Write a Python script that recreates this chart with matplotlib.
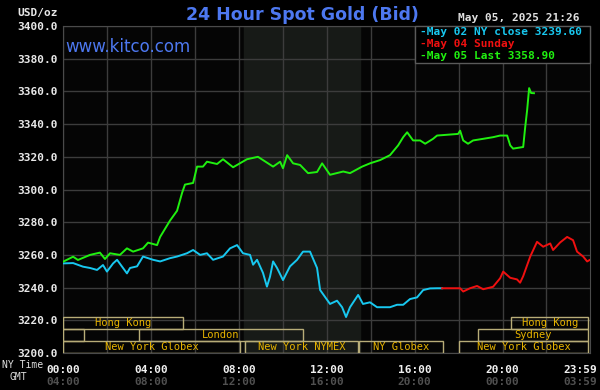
import matplotlib.pyplot as plt
from matplotlib.patches import Rectangle

# --- data (hours NY time, price USD/oz) ---
prev_t = [0, 0.46, 0.91, 1.23, 1.55, 1.82, 2.0, 2.28, 2.46, 2.91,
          3.05, 3.37, 3.64, 4.1, 4.42, 4.87, 5.19, 5.64, 5.92, 6.24,
          6.55, 6.83, 7.28, 7.6, 7.92, 8.19, 8.51, 8.65, 8.83, 9.1,
          9.28, 9.42, 9.56, 9.74, 10.01, 10.33, 10.65, 10.92, 11.24, 11.56,
          11.7, 12.15, 12.47, 12.7, 12.88, 13.06, 13.43, 13.65, 13.97, 14.29,
          14.88, 15.2, 15.48, 15.79, 16.11, 16.39, 16.7, 17.02, 17.25]
prev_p = [3254.8, 3255, 3252.8, 3252, 3250.8, 3253.8, 3249.8, 3254.8, 3257, 3248.7,
          3252, 3253, 3259, 3257, 3256, 3258, 3259, 3261, 3263, 3260,
          3261, 3257, 3259, 3264, 3266, 3261, 3260, 3254, 3257, 3249,
          3240.6, 3246.7, 3256, 3252, 3244.6, 3253, 3257, 3262, 3262, 3252,
          3238.5, 3230, 3232, 3228, 3222, 3228, 3235.5, 3230, 3231, 3228,
          3228, 3229.5, 3229.5, 3233, 3234, 3238.5, 3239.5, 3239.6, 3239.6]

sun_t = [17.25, 18.07, 18.21, 18.52, 18.84, 19.12, 19.57, 19.89, 20.03, 20.35,
         20.66, 20.8, 20.94, 21.26, 21.57, 21.85, 22.17, 22.3, 22.62, 22.94,
         23.21, 23.39, 23.67, 23.85, 23.98]
sun_p = [3239.6, 3239.6, 3237.6, 3239.6, 3241, 3239, 3240.5, 3245.7, 3249.8, 3246,
         3245, 3243, 3247, 3259, 3268, 3265, 3267, 3263, 3267.6, 3271,
         3269, 3262, 3259, 3256, 3257]

today_t = [0, 0.46, 0.68, 1.23, 1.68, 1.91, 2.14, 2.59, 2.91, 3.19,
           3.64, 3.87, 4.28, 4.42, 4.87, 5.19, 5.42, 5.55, 5.92, 6.1,
           6.37, 6.55, 7.01, 7.28, 7.74, 8.37, 8.87, 9.1, 9.56, 9.88,
           10.01, 10.2, 10.47, 10.79, 11.15, 11.56, 11.79, 12.15,
           12.75, 13.06, 13.61, 13.97, 14.43, 14.88, 15.25, 15.48, 15.66, 15.93,
           16.25, 16.48, 16.84, 17.02, 17.98, 18.07, 18.21, 18.43, 18.66, 19.12,
           19.57, 19.89, 20.21, 20.35, 20.48, 20.94, 21.03, 21.12, 21.21, 21.3,
           21.43]
today_p = [3255.8, 3258.9, 3256.9, 3260, 3261.4, 3257.5, 3261, 3260, 3264, 3262,
           3264, 3267.5, 3266, 3271, 3281, 3287, 3298, 3303, 3304, 3314,
           3314, 3317, 3315.6, 3318.5, 3313.6, 3318.5, 3320, 3318, 3314, 3317,
           3313, 3321, 3316, 3315, 3310, 3310.7, 3316, 3309,
           3311, 3310, 3314, 3316, 3318, 3321, 3327, 3332, 3335, 3330,
           3330, 3328, 3331, 3333, 3334, 3336, 3330, 3328, 3330, 3331,
           3332, 3333, 3333, 3327, 3325, 3326, 3338, 3348.6, 3362, 3359,
           3358.9]

legend_labels = ['May 02 NY close 3239.60', 'May 04 Sunday', 'May 05 Last 3358.90']

# market sessions: name, row (0 = top), start hour, end hour
sess_names = ['Hong Kong', '', 'London', 'New York Globex', 'New York NYMEX',
              'NY Globex', 'New York Globex', 'Sydney', 'Hong Kong']
sess_rows = [0, 1, 1, 2, 2, 2, 2, 1, 0]
sess_start = [0, 0, 3.47, 0, 8.28, 13.47, 18.0, 18.9, 20.4]
sess_end = [5.46, 0.96, 10.9, 8.05, 13.43, 17.3, 23.9, 23.9, 23.9]

pit_hours = (8.25, 13.52)

xtick_pos = [0, 4, 8, 12, 16, 20, 23.98]
ny_labels = ['00:00', '04:00', '08:00', '12:00', '16:00', '20:00', '23:59']
gmt_labels = ['04:00', '08:00', '12:00', '16:00', '20:00', '00:00', '03:59']

# --- colours ---
CYAN = '#18c8f0'
RED = '#f01010'
GREEN = '#20f010'
BLUE = '#4d78f0'
GOLD = '#e8b400'
BOX = '#b8ad78'
MONO = 'DejaVu Sans Mono'

fig = plt.figure(figsize=(6, 3.9), dpi=100, facecolor='black')
ax = fig.add_axes([63 / 600, 1 - 353 / 390, 527 / 600, 327 / 390])
ax.set_facecolor('#050505')
ax.set_xlim(0, 23.98)
ax.set_ylim(3200, 3400)

ax.axvspan(*pit_hours, color='#171a17', zorder=0)

ax.set_xticks([h for h in range(0, 24, 2)])
ax.set_yticks(range(3200, 3401, 20))
ax.grid(True, color='#3c3c3c', lw=1.0, zorder=1)
ax.tick_params(length=0, labelbottom=False)
ax.set_yticklabels([f'{v:.1f}' for v in range(3200, 3401, 20)])
for lab in ax.get_yticklabels():
    lab.set_color('#e8e8e8')
    lab.set_fontfamily(MONO)
    lab.set_fontweight('bold')
    lab.set_fontsize(8)
ax.tick_params(axis='y', pad=4)
for s in ax.spines.values():
    s.set_color('#4a4a4a')

# session boxes
row_h = 22 / 3
for name, r, a, b in zip(sess_names, sess_rows, sess_start, sess_end):
    y0 = 3200 + (2 - r) * row_h
    ax.add_patch(Rectangle((a, y0), b - a, row_h, fill=False, ec=BOX, lw=1.0, zorder=3))
    if name:
        ax.text((a + b) / 2, y0 + row_h / 2, name, color=GOLD, fontsize=7.5,
                family=MONO, ha='center', va='center', zorder=4)

ax.plot(prev_t, prev_p, color=CYAN, lw=1.4, zorder=5)
ax.plot(sun_t, sun_p, color=RED, lw=1.4, zorder=5)
ax.plot(today_t, today_p, color=GREEN, lw=1.4, zorder=6)

# x labels (NY time and GMT)
tr = ax.get_xaxis_transform()
for i, (x, a, b) in enumerate(zip(xtick_pos, ny_labels, gmt_labels)):
    ha = 'right' if i == len(xtick_pos) - 1 else 'center'
    dx = 5 if ha == 'right' else 0
    ax.annotate(a, (x, 0), xycoords=tr, xytext=(dx, -12), textcoords='offset points',
                ha=ha, va='center', color='#f0f0f0', family=MONO, fontweight='bold', fontsize=8)
    ax.annotate(b, (x, 0), xycoords=tr, xytext=(dx, -21), textcoords='offset points',
                ha=ha, va='center', color='#505050', family=MONO, fontweight='bold', fontsize=8)

fig.text(2 / 600, 1 - 365 / 390, 'NY Time', color='#e0e0e0', family=MONO, fontsize=7,
         ha='left', va='center')
fig.text(10 / 600, 1 - 377 / 390, 'GMT', color='#e0e0e0', family=MONO, fontsize=7,
         ha='left', va='center')
fig.text(58 / 600, 1 - 13 / 390, 'USD/oz', color='#e8e8e8', family=MONO, fontweight='bold',
         fontsize=8, ha='right', va='center')

fig.text(302 / 600, 1 - 15 / 390, '24 Hour Spot Gold (Bid)', color=BLUE, fontsize=12.5,
         fontweight='bold', ha='center', va='center')
fig.text(65 / 600, 1 - 47 / 390, 'www.kitco.com', color=BLUE, fontsize=12,
         ha='left', va='center')
fig.text(580 / 600, 1 - 18 / 390, 'May 05, 2025 21:26', color='#e0e0e0', family=MONO,
         fontweight='bold', fontsize=8, ha='right', va='center')

# legend box
fig.patches.append(Rectangle((415 / 600, 1 - 63 / 390), 175 / 600, 37 / 390,
                             transform=fig.transFigure, fc='black', ec='#5a5a5a', lw=1.0,
                             zorder=10))
for lab, col, yy in zip(legend_labels, [CYAN, RED, GREEN], [32, 44, 56]):
    fig.text(420 / 600, 1 - yy / 390, '-' + lab, color=col, family=MONO, fontweight='bold',
             fontsize=8, ha='left', va='center', zorder=11)

fig.savefig('out.png', dpi=100, facecolor='black')
